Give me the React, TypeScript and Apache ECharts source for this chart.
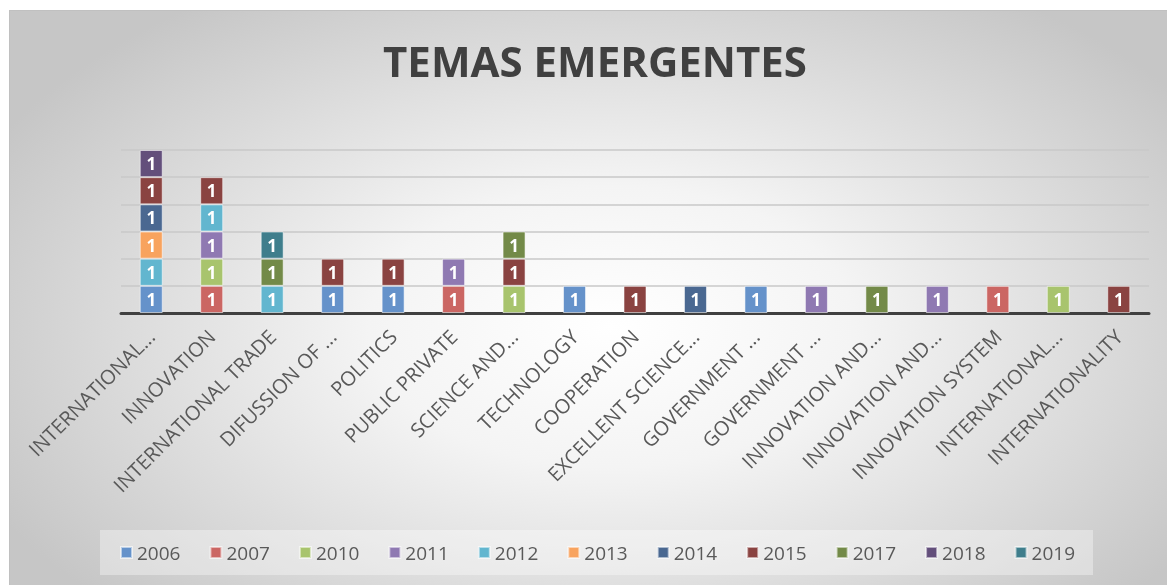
import React, { useEffect, useRef } from "react";
import * as echarts from "echarts";

const categories = [
  "INTERNATIONAL...",
  "INNOVATION",
  "INTERNATIONAL TRADE",
  "DIFUSSION OF ...",
  "POLITICS",
  "PUBLIC PRIVATE",
  "SCIENCE AND...",
  "TECHNOLOGY",
  "COOPERATION",
  "EXCELLENT SCIENCE...",
  "GOVERNMENT ...",
  "GOVERNMENT ...",
  "INNOVATION AND...",
  "INNOVATION AND...",
  "INNOVATION SYSTEM",
  "INTERNATIONAL...",
  "INTERNATIONALITY",
];

const years = ["2006", "2007", "2010", "2011", "2012", "2013", "2014", "2015", "2017", "2018", "2019"];
const yearColors = ["#6592CA", "#CB6663", "#A8C46D", "#8F79B2", "#62B6CF", "#F8A35E", "#4A6891", "#8A4341", "#738A48", "#634F7B", "#3F7E8C"];

const N = null;
const v2006 = [1, N, N, 1, 1, N, N, 1, N, N, 1, N, N, N, N, N, N];
const v2007 = [N, 1, N, N, N, 1, N, N, N, N, N, N, N, N, 1, N, N];
const v2010 = [N, 1, N, N, N, N, 1, N, N, N, N, N, N, N, N, 1, N];
const v2011 = [N, 1, N, N, N, 1, N, N, N, N, N, 1, N, 1, N, N, N];
const v2012 = [1, 1, 1, N, N, N, N, N, N, N, N, N, N, N, N, N, N];
const v2013 = [1, N, N, N, N, N, N, N, N, N, N, N, N, N, N, N, N];
const v2014 = [1, N, N, N, N, N, N, N, N, 1, N, N, N, N, N, N, N];
const v2015 = [1, 1, N, 1, 1, N, 1, N, 1, N, N, N, N, N, N, N, 1];
const v2017 = [N, N, 1, N, N, N, 1, N, N, N, N, N, 1, N, N, N, N];
const v2018 = [1, N, N, N, N, N, N, N, N, N, N, N, N, N, N, N, N];
const v2019 = [N, N, 1, N, N, N, N, N, N, N, N, N, N, N, N, N, N];

const seriesValues = [v2006, v2007, v2010, v2011, v2012, v2013, v2014, v2015, v2017, v2018, v2019];

export default function App() {
  const ref = useRef<HTMLDivElement>(null);
  useEffect(() => {
    if (!ref.current) return;
    const chart = echarts.init(ref.current, undefined, { renderer: "svg" });
    const font = "'Open Sans', sans-serif";
    chart.setOption({
      animation: false,
      textStyle: { fontFamily: font },
      title: {
        text: "TEMAS EMERGENTES",
        left: 580,
        textAlign: "center",
        top: 23,
        textStyle: { fontFamily: font, fontSize: 42, fontWeight: "bold", color: "#404040" },
      },
      grid: { left: 111, width: 1028, top: 139, height: 163, containLabel: false },
      xAxis: {
        type: "category",
        data: categories,
        axisLine: { lineStyle: { color: "#404040", width: 3 } },
        axisTick: { show: false },
        axisLabel: {
          interval: 0,
          rotate: 45,
          color: "#595959",
          fontSize: 20,
          fontFamily: font,
          margin: 20,
        },
      },
      yAxis: {
        type: "value",
        min: 0,
        max: 6,
        interval: 1,
        axisLabel: { show: false },
        axisLine: { show: false },
        axisTick: { show: false },
        splitLine: { lineStyle: { color: "#c8c8c8", width: 1.5 } },
      },
      legend: {
        top: 519,
        left: 90,
        padding: [13, 18, 13, 20],
        backgroundColor: "rgba(255,255,255,0.35)",
        itemWidth: 11,
        itemHeight: 11,
        itemGap: 29,
        icon: "rect",
        textStyle: { fontSize: 19, color: "#595959", fontFamily: font },
        data: years,
      },
      series: years.map((y, i) => ({
        name: y,
        type: "bar",
        stack: "total",
        barWidth: 23,
        data: seriesValues[i],
        itemStyle: {
          color: yearColors[i],
          borderColor: "rgba(255,255,255,0.55)",
          borderWidth: 1,
        },
        label: {
          show: true,
          position: "inside",
          color: "#ffffff",
          fontWeight: "bold",
          fontSize: 17,
          fontFamily: font,
        },
      })),
    });
    return () => chart.dispose();
  }, []);
  return (
    <div
      style={{
        position: "fixed",
        left: 9,
        top: 10,
        width: 1158,
        height: 575,
        background: "radial-gradient(ellipse 60% 70% at 52% 55%, #ffffff 0%, #f4f4f4 35%, #c6c6c6 100%)",
        borderTop: "1px solid #c0c0c0",
        borderLeft: "1px solid #c0c0c0",
        boxSizing: "border-box",
      }}
    >
      <div ref={ref} style={{ width: "100%", height: "100%" }} />
    </div>
  );
}
